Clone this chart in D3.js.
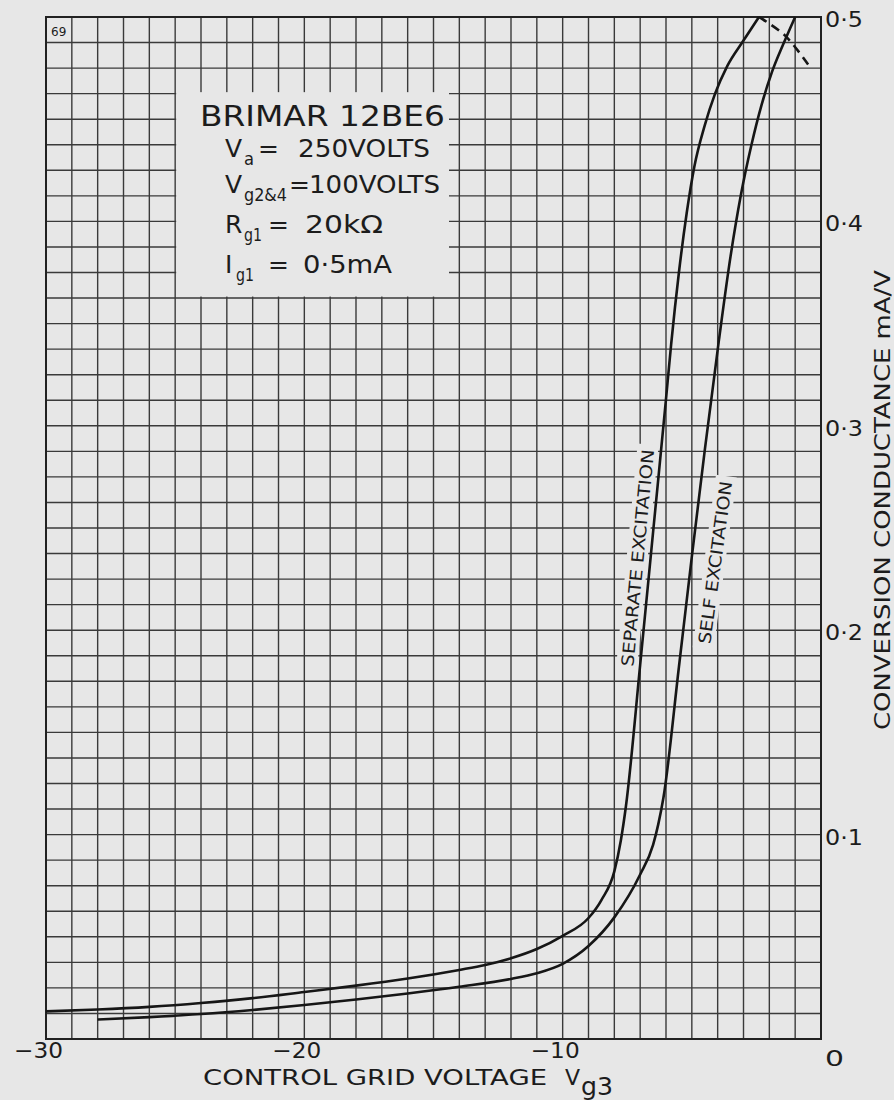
<!DOCTYPE html>
<html><head><meta charset="utf-8">
<script src="https://cdn.jsdelivr.net/npm/d3@7"></script>
<style>
body{margin:0;background:#e7e7e7}
svg{display:block}
text{font-family:"DejaVu Sans","Liberation Sans",sans-serif;fill:#1c1c1c}
</style>
</head><body>
<svg id="chart" width="894" height="1100"></svg>
<script>
// ---- data ----
const separateV = [-30, -28, -26, -24, -22, -20, -18, -16, -14, -13, -12, -11, -10, -9, -8.5, -8, -7.75, -7.55, -7.0, -6.5, -6.0, -5.8, -5.5, -5.2, -4.9, -4.5, -4.1, -3.63, -3.0, -2.4];
const separateG = [0.0135, 0.0144, 0.0157, 0.0176, 0.0200, 0.0230, 0.0261, 0.0296, 0.0338, 0.0362, 0.0395, 0.0440, 0.0505, 0.0592, 0.0680, 0.0820, 0.0970, 0.114, 0.183, 0.248, 0.313, 0.340, 0.375, 0.404, 0.427, 0.447, 0.4625, 0.476, 0.4885, 0.5];
const selfV = [-28, -26, -24, -22, -20, -18, -16, -14, -12, -11, -10, -9, -8, -7, -6.5, -6.3, -6.1, -5.5, -5.0, -4.5, -3.95, -3.5, -3.1, -2.7, -2.3, -1.9, -1.45, -1.0];
const selfG = [0.0095, 0.0107, 0.0122, 0.0142, 0.0166, 0.0193, 0.0223, 0.0256, 0.0294, 0.0322, 0.0368, 0.0455, 0.0595, 0.0805, 0.0950, 0.1050, 0.118, 0.182, 0.236, 0.288, 0.342, 0.383, 0.413, 0.437, 0.457, 0.473, 0.487, 0.5];
const dashedV = [-2.4, -1.4, -0.4];
const dashedG = [0.5, 0.491, 0.475];
const xTickValues = [-30, -20, -10];
const xTickLabels = ["\u221230", "\u221220", "\u221210"];
const yTickValues = [0, 0.1, 0.2, 0.3, 0.4, 0.5];
const yTickLabels = ["0", "0\u00b71", "0\u00b72", "0\u00b73", "0\u00b74", "0\u00b75"];
const xTitle = "CONTROL GRID VOLTAGE";
const yTitle = "CONVERSION CONDUCTANCE mA/V";
const curveLabels = ["SEPARATE EXCITATION", "SELF EXCITATION"];

// ---- layout ----
const svg = d3.select("#chart");
const bg = "#e7e7e7";
const x = d3.scaleLinear().domain([-30, 0]).range([46, 821]);
const y = d3.scaleLinear().domain([0, 0.5]).range([1039, 17]);

svg.append("rect").attr("width", 894).attr("height", 1100).attr("fill", bg);

// grid
const g = svg.append("g");
g.selectAll("line.v").data(d3.range(-30, 0.001, 1)).join("line")
  .attr("x1", d => x(d)).attr("x2", d => x(d))
  .attr("y1", y(0)).attr("y2", y(0.5))
  .attr("stroke", "#3a3a3a").attr("stroke-width", 1.4);
g.selectAll("line.h").data(d3.range(0, 0.50001, 0.0125)).join("line")
  .attr("y1", d => y(d)).attr("y2", d => y(d))
  .attr("x1", x(-30)).attr("x2", x(0))
  .attr("stroke", "#3a3a3a").attr("stroke-width", 1.4);
// frame
svg.append("rect").attr("x", x(-30)).attr("y", y(0.5))
  .attr("width", x(0) - x(-30)).attr("height", y(0) - y(0.5))
  .attr("fill", "none").attr("stroke", "#222").attr("stroke-width", 2);

// cleared box for the legend text
svg.append("rect")
  .attr("x", x(-25) + 1).attr("y", y(0.4625) - 1.5)
  .attr("width", x(-14.4) - x(-25) - 1).attr("height", y(0.3625) - y(0.4625))
  .attr("fill", bg);

// page number
svg.append("text").attr("x", 51).attr("y", 36).attr("font-size", 12).text("69");

// legend text
const lg = svg.append("g");
lg.append("text").attr("x", 200).attr("y", 126).attr("font-size", 29)
  .attr("textLength", 245).attr("lengthAdjust", "spacingAndGlyphs").text("BRIMAR 12BE6");
function symLine(main, sub, subX, subLen, eqX, valX, value, base, valLen) {
  lg.append("text").attr("x", 225).attr("y", base).attr("font-size", 25).text(main);
  lg.append("text").attr("x", subX).attr("y", base + 8).attr("font-size", 17)
    .attr("textLength", subLen).attr("lengthAdjust", "spacingAndGlyphs").text(sub);
  lg.append("text").attr("x", eqX).attr("y", base).attr("font-size", 25).text("=");
  lg.append("text").attr("x", valX).attr("y", base).attr("font-size", 25)
    .attr("textLength", valLen).attr("lengthAdjust", "spacingAndGlyphs").text(value);
}
symLine("V", "a", 244, 10, 258, 298, "250VOLTS", 157, 132);
symLine("V", "g2&4", 244, 43, 289, 309, "100VOLTS", 193, 131);
symLine("R", "g1", 244, 18, 268, 305, "20k\u03a9", 233, 78);
symLine("I", "g1", 236, 18, 268, 303, "0\u00b75mA", 273, 89);

// curves
const line = d3.line().x(d => x(d[0])).y(d => y(d[1])).curve(d3.curveMonotoneX);
const sepData = separateV.map((v, i) => [v, separateG[i]]);
const selfData = selfV.map((v, i) => [v, selfG[i]]);
const dashData = dashedV.map((v, i) => [v, dashedG[i]]);

// curve labels with cleared background
function curveLabel(text, v, gv, angle, len) {
  const t = svg.append("g").attr("transform", `translate(${x(v)},${y(gv)}) rotate(${angle})`);
  t.append("rect").attr("x", -5).attr("y", -17).attr("width", len + 10).attr("height", 21).attr("fill", bg);
  t.append("text").attr("x", 0).attr("y", 0).attr("font-size", 17)
    .attr("textLength", len).attr("lengthAdjust", "spacingAndGlyphs").text(text);
}
curveLabel(curveLabels[0], -7.27, 0.182, -84.5, 218);
curveLabel(curveLabels[1], -4.29, 0.193, -82.3, 164);

svg.append("path").datum(sepData).attr("d", line).attr("fill", "none").attr("stroke", "#161616").attr("stroke-width", 2.6);
svg.append("path").datum(selfData).attr("d", line).attr("fill", "none").attr("stroke", "#161616").attr("stroke-width", 2.6);
svg.append("path").datum(dashData).attr("d", d3.line().x(d => x(d[0])).y(d => y(d[1])).curve(d3.curveCatmullRom))
  .attr("fill", "none").attr("stroke", "#161616")
  .attr("stroke-width", 2.6).attr("stroke-dasharray", "9,6");

// x tick labels
svg.selectAll("text.xt").data(xTickValues).join("text")
  .attr("x", d => x(d) + 17).attr("y", 1058).attr("text-anchor", "end").attr("font-size", 22)
  .attr("textLength", 49).attr("lengthAdjust", "spacingAndGlyphs")
  .text((d, i) => xTickLabels[i]);

// y tick labels (right side)
svg.selectAll("text.yt").data(yTickValues).join("text")
  .attr("x", x(0) + 4)
  .attr("y", d => d === 0 ? y(d) + 27 : y(d) + 10)
  .attr("font-size", 22)
  .attr("textLength", (d, i) => i === 0 ? 19 : 38).attr("lengthAdjust", "spacingAndGlyphs")
  .text((d, i) => yTickLabels[i]);

// x title
svg.append("text").attr("x", 203).attr("y", 1085).attr("font-size", 22)
  .attr("textLength", 344).attr("lengthAdjust", "spacingAndGlyphs").text(xTitle);
svg.append("text").attr("x", 565).attr("y", 1085).attr("font-size", 22).text("V");
svg.append("text").attr("x", 581).attr("y", 1095).attr("font-size", 24)
  .attr("textLength", 32).attr("lengthAdjust", "spacingAndGlyphs").text("g3");

// y title
svg.append("text").attr("transform", "translate(890,500) rotate(-90)")
  .attr("text-anchor", "middle").attr("font-size", 22)
  .attr("textLength", 460).attr("lengthAdjust", "spacingAndGlyphs").text(yTitle);
</script>
</body></html>
